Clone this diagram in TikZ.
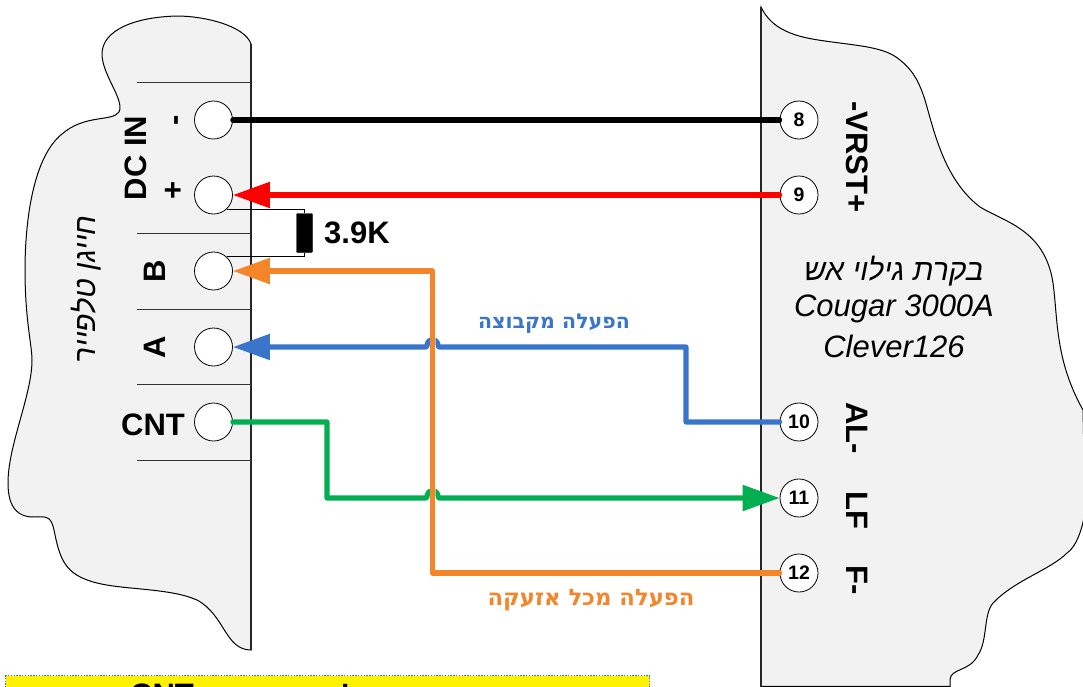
\documentclass[tikz,border=0pt]{standalone}
\usepackage{fontspec}
\usetikzlibrary{arrows.meta}
\setmainfont{Liberation Sans}
\newfontfamily\hebfont[Script=Hebrew]{Liberation Sans}
\newfontfamily\hebbold[Script=Hebrew]{DejaVu Sans}
\TeXXeTstate=1
\definecolor{panel}{HTML}{F2F2F2}
\definecolor{wblue}{HTML}{3A75CC}
\definecolor{worange}{HTML}{F58529}
\definecolor{wgreen}{HTML}{00B050}
\tikzset{
 x=1pt,y=-1pt,
 panelshape/.style={fill=panel,draw=black,line width=1pt},
 edgeline/.style={line width=1.4pt,draw=black!85},
 term/.style={circle,draw=black,fill=white,line width=.8pt,minimum size=38pt,inner sep=0pt,font=\bfseries\fontsize{19.5}{19.5}\selectfont},
 divider/.style={draw=black!80,line width=.7pt},
 wire/.style={line width=5.2pt,line join=round,line cap=round},
 tipped/.style={-{Triangle[length=37pt,width=25pt]}},
 biglab/.style={font=\bfseries\fontsize{31}{31}\selectfont,inner sep=0pt},
 notelab/.style={font=\itshape\fontsize{31}{31}\selectfont,inner sep=0pt},
 hebnote/.style={font=\itshape\fontsize{30}{30}\selectfont,inner sep=0pt},
}
\begin{document}
\begin{tikzpicture}
\useasboundingbox (0,0) rectangle (1083,686);
\clip (0,0) rectangle (1083,686);
% left panel
\path[panelshape] (251,44) .. controls (245,26) and (205,16) .. (177,16)
 .. controls (135,17) and (102,30) .. (102,54)
 .. controls (102,75) and (125,100) .. (119,112)
 .. controls (112,122) and (85,114) .. (62,134)
 .. controls (32,158) and (25,225) .. (25,270)
 .. controls (25,320) and (32,345) .. (32,360)
 .. controls (32,395) and (8,445) .. (8,483)
 .. controls (8,510) and (20,517) .. (33,517)
 .. controls (48,516) and (51,517) .. (54,530)
 .. controls (60,560) and (65,575) .. (97,583)
 .. controls (125,590) and (170,588) .. (197,600)
 .. controls (225,615) and (225,650) .. (251,650) -- cycle;
\draw[edgeline] (251,44) -- (251,650);
% right panel
\path[panelshape] (761,7) .. controls (772,30) and (795,37) .. (825,41)
 .. controls (860,46) and (885,47) .. (900,60)
 .. controls (915,72) and (920,85) .. (925,100)
 .. controls (935,135) and (945,180) .. (980,207)
 .. controls (1005,222) and (1045,230) .. (1053,283)
 .. controls (1058,320) and (1055,360) .. (1083,410)
 -- (1085,510) .. controls (1083,530) and (1075,548) .. (1067,553)
 .. controls (1050,570) and (1015,580) .. (993,603)
 .. controls (983,615) and (988,640) .. (978,655)
 .. controls (970,672) and (950,668) .. (950,680) -- (950,686.4) -- (761,686.4) -- cycle;
\draw[edgeline] (761,7) -- (761,690);
% dividers
\foreach \y/\n in {82/a,233/b,309/c,384/d,460/e}{
 \draw[divider] (137,\y) -- (251,\y);
}
% terminals left
\node[term] (tm) at (213.5,120) {};
\node[term] (tp) at (213.5,195) {};
\node[term] (tb) at (213.5,271) {};
\node[term] (ta) at (213.5,347) {};
\node[term] (tc) at (213.5,422) {};
% terminals right
\node[term] (r8) at (799,120) {8};
\node[term] (r9) at (799,195) {9};
\node[term] (r10) at (799,422) {10};
\node[term] (r11) at (799,498) {11};
\node[term] (r12) at (799,573) {12};
% resistor
\node[fill=black,draw=black,rounded corners=.8pt,minimum width=16pt,minimum height=39pt,inner sep=0pt] (res) at (304.5,233) {};
\draw[line width=1.2pt] (tp.-47) -| (res.north);
\draw[line width=1.2pt] (tb.47) -| (res.south);
\node[biglab,anchor=west] (rl) at (324,233) {3.9K};
% wires
\draw[wire,black] (tm.east) -- (r8.west);
\draw[wire,red,tipped] (r9.west) -- (tp.east);
\draw[wire,wgreen,tipped] (tc.east) -- (327,422) -- (327,498) -- (426,498)
  .. controls (428,498) and (425.5,491) .. (432.5,491) .. controls (439.5,491) and (437,498) .. (439,498) -- (r11.west);
\draw[wire,wblue,tipped] (r10.west) -- (686,422) -- (686,347) -- (439,347)
  .. controls (437,347) and (439.5,340) .. (432.5,340) .. controls (425.5,340) and (428,347) .. (426,347) -- (ta.east);
\draw[line width=6pt,white,opacity=.5] (432.5,271) -- (432.5,573);
\draw[wire,worange,tipped] (r12.west) -- (432.5,573) -- (432.5,271) -- (tb.east);
% labels left
\node[biglab,rotate=90] (dc) at (136,158) {DC IN};
\node[biglab,rotate=90] (mi) at (180,120) {-};
\node[biglab,rotate=90] (pl) at (174,190) {+};
\node[biglab,rotate=90] (lb) at (155,271) {B};
\node[biglab,rotate=90] (la) at (155,347) {A};
\node[biglab] (lc) at (153,425) {CNT};
\node[hebnote,rotate=90] (dial) at (86,289.5) {\hebfont\itshape\beginR חייגן טלפייר\endR};
% labels right
\node[biglab,rotate=-90] (vr) at (857,157) {-VRST+};
\node[biglab,rotate=-90] (al) at (857,428) {AL-};
\node[biglab,rotate=-90] (lf) at (857,510) {LF};
\node[biglab,rotate=-90] (fm) at (857,580) {F-};
\node[hebnote] (n1) at (894,271) {\hebfont\itshape\beginR בקרת גילוי אש\endR};
\node[notelab] (n2) at (894,309) {Cougar 3000A};
\node[notelab] (n3) at (894,346) {Clever126};
% wire notes
\node[text=wblue,inner sep=0pt,font=\bfseries\fontsize{20.5}{20.5}\selectfont] (gl) at (554,324) {\hebbold\bfseries\beginR הפעלה מקבוצה\endR};
\node[text=worange,inner sep=0pt,font=\bfseries\fontsize{22.7}{22.7}\selectfont] (al2) at (591,600) {\hebbold\bfseries\beginR הפעלה מכל אזעקה\endR};
% note box
\node[draw=wblue,dash pattern=on 1.4pt off 1.4pt,line width=1.4pt,fill=yellow,anchor=north west,minimum width=644pt,minimum height=40pt,inner sep=0pt] (nb) at (5,675) {};
\node[biglab,anchor=north] (nt) at (162,684) {CNT};
\node[biglab,anchor=north] (nu) at (351,684) {\hebfont\bfseries\beginR ל\endR};
\end{tikzpicture}
\end{document}
